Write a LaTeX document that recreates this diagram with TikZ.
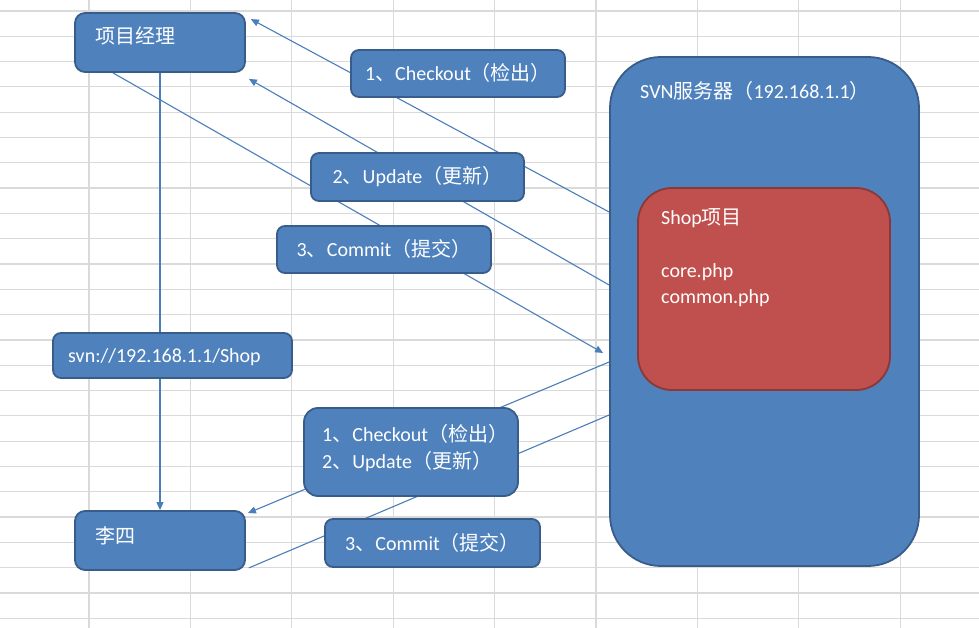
\documentclass[tikz,border=0pt]{standalone}
\usepackage{fontspec}
\setmainfont{Carlito}
\newfontfamily\cjk{Noto Sans CJK SC}
\usetikzlibrary{arrows.meta}
\definecolor{boxblue}{HTML}{4F81BD}
\definecolor{boxblueedge}{HTML}{385D8A}
\definecolor{boxred}{HTML}{C0504D}
\definecolor{boxrededge}{HTML}{8C3836}
\definecolor{linkblue}{HTML}{4A7EBB}
\definecolor{gridgray}{HTML}{DADADA}
\pgfdeclarelayer{grid}
\pgfdeclarelayer{links}
\pgfsetlayers{grid,links,main}

\begin{document}
\begin{tikzpicture}[
  x=1pt, y=-1pt,
  font=\fontsize{20}{26}\selectfont,
  blue_box/.style={rectangle, rounded corners=8pt, draw=boxblueedge, line width=1.8pt, fill=boxblue, text=white, inner sep=0pt, text height=14pt, text depth=0pt},
  red_box/.style={rectangle, rounded corners=34pt, draw=boxrededge, line width=1.8pt, fill=boxred, inner sep=0pt},
  box_text/.style={text=white, inner sep=0pt, anchor=base west},
  grid_line/.style={draw=gridgray, line width=1.2pt},
  link/.style={draw=linkblue, line width=1.1pt},
  link_arrow/.style={link, -{Triangle[length=8pt,width=7pt]}},
]
\useasboundingbox (0,0) rectangle (979,628);
\begin{pgfonlayer}{grid}
\fill[white] (0,0) rectangle (979,628);
\foreach \i in {0,...,24}
  \draw[grid_line] (0,{11+25.3*\i}) -- (979,{11+25.3*\i});
\foreach \i in {0,...,8}
  \draw[grid_line] ({89+101.4*\i},0) -- ({89+101.4*\i},628);
\end{pgfonlayer}

\draw (160,42.5) node (pm) [blue_box, minimum width=170pt, minimum height=59pt, rounded corners=10pt] {};
\draw (95,44) node (pm text) [box_text] {\cjk 项目经理};
\draw (172.5,355.5) node (url) [blue_box, minimum width=239pt, minimum height=45pt] {};
\draw (68,362) node (url text) [box_text] {svn://192.168.1.1/Shop};
\draw (160,540.5) node (ls) [blue_box, minimum width=170pt, minimum height=59pt, rounded corners=10pt] {};
\draw (95,543) node (ls text) [box_text] {\cjk 李四};

\draw (458,73.5) node (co) [blue_box, minimum width=214pt, minimum height=47pt] {1{\cjk 、}Checkout{\cjk （检出）}};
\draw (417.5,177) node (up) [blue_box, minimum width=213pt, minimum height=48pt] {2{\cjk 、}Update{\cjk （更新）}};
\draw (384,249.5) node (ci) [blue_box, minimum width=214pt, minimum height=47pt] {3{\cjk 、}Commit{\cjk （提交）}};
\draw (411,452) node (coup) [blue_box, minimum width=214pt, minimum height=88pt, rounded corners=14pt] {};
\draw (322,441) node (coup text a) [box_text] {1{\cjk 、}Checkout{\cjk （检出）}};
\draw (322,468) node (coup text b) [box_text] {2{\cjk 、}Update{\cjk （更新）}};
\draw (432.5,543) node (ci low) [blue_box, minimum width=215pt, minimum height=48pt] {3{\cjk 、}Commit{\cjk （提交）}};

\draw (764.5,311.5) node (svn) [blue_box, minimum width=309pt, minimum height=509pt, rounded corners=51pt] {};
\draw (640,99) node (svn text) [box_text] {SVN{\cjk 服务器（}192.168.1.1{\cjk ）}};
\draw (764,289) node (shop) [red_box, minimum width=252pt, minimum height=202pt] {};
\draw (661,225) node (shop text) [box_text] {Shop{\cjk 项目}};
\draw (661,277) node (core) [box_text] {core.php};
\draw (661,303) node (common) [box_text] {common.php};

\begin{pgfonlayer}{links}
\draw[link_arrow] ([yshift=99.5pt]svn.west) -- ([xshift=5pt,yshift=-7pt]pm.north east);
\draw[link_arrow] ([yshift=26.5pt]svn.west) -- ([xshift=3pt,yshift=-6pt]pm.south east);
\draw[link_arrow] ([xshift=-47pt]pm.south) -- ([xshift=-6pt,yshift=-41.5pt]svn.west);
\draw[link_arrow] (pm.south) -- (ls.north);
\draw[link_arrow] ([yshift=-50.5pt]svn.west) -- ([xshift=2pt,yshift=-3pt]ls.north east);
\draw[link] ([xshift=3pt,yshift=3pt]ls.south east) -- ([yshift=-103.5pt]svn.west);
\end{pgfonlayer}
\end{tikzpicture}
\end{document}
